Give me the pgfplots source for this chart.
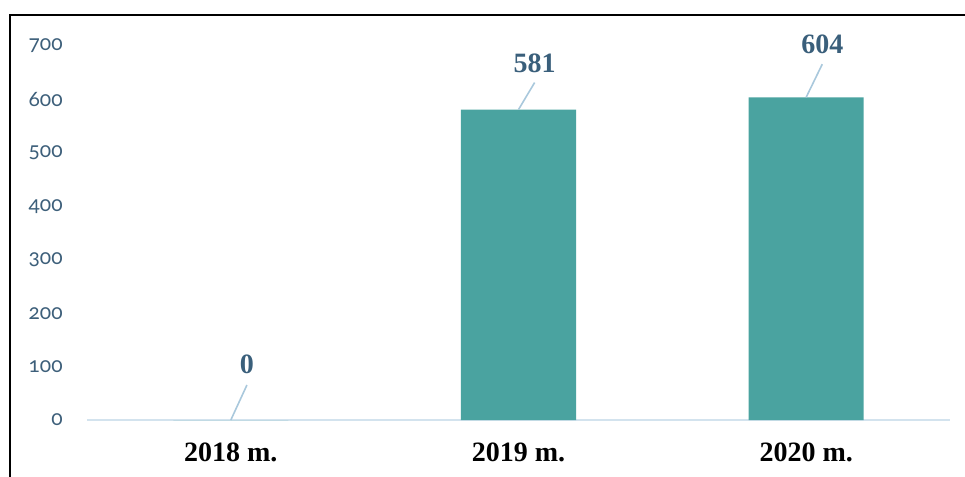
\documentclass[border=0pt]{standalone}
\usepackage{fontspec}
\setmainfont{Liberation Serif}
\newfontfamily\latofont[Numbers=OldStyle]{Lato}
\usepackage{pgfplots}
\usepackage{pgfplotstable}
\pgfplotsset{compat=1.18}
\definecolor{barteal}{HTML}{4AA3A0}
\definecolor{axisblue}{HTML}{D3E3EE}
\definecolor{leader}{HTML}{A9C8DC}
\definecolor{valblue}{HTML}{3A5F7B}
\definecolor{tickblue}{HTML}{3D5F7A}

% x: category, val: value, u/v: leader line, ly: label offset
\pgfplotstableread{
x val u v ly
0 0 0.056 65.5 86
1 581 0.056 50.5 69
2 604 0.056 62 80.5
}\datatable

\begin{document}
\begin{tikzpicture}
\useasboundingbox (-43.5pt,-28.5pt) rectangle (439pt,210pt);
\draw[line width=1pt] (-38.5pt,-28.5pt) -- (-38.5pt,202.5pt) -- (439pt,202.5pt);
\begin{axis}[
    at={(0pt,0pt)}, anchor=south west,
    scale only axis,
    width=431.5pt, height=187pt,
    xmin=-0.5, xmax=2.5,
    ymin=0, ymax=700,
    clip=false,
    axis x line=bottom,
    axis y line=left,
    x axis line style={draw=axisblue, line width=1pt, -},
    y axis line style={draw=none},
    major tick length=0pt,
    xtick={0,1,2},
    xticklabels={2018 m., 2019 m., 2020 m.},
    xticklabel style={font=\fontsize{14}{16}\selectfont\bfseries, text=black, anchor=north, inner sep=0pt, yshift=-11pt},
    ytick={0,100,...,700},
    yticklabel={\pgfmathprintnumber[assume math mode=true]{\tick}},
    yticklabel style={font=\latofont\fontsize{10.5}{12}\selectfont, text=tickblue, anchor=east, inner sep=0pt, xshift=-12pt},
]
\addplot[ybar, bar width=0.4, bar shift=0pt, fill=barteal, draw=none]
    table[x=x, y=val] {\datatable};
\addplot[quiver={u=\thisrow{u}, v=\thisrow{v}}, -, draw=leader, line width=0.8pt, no markers]
    table[x=x, y=val] {\datatable};
\addplot[draw=none, no markers, point meta=explicit,
    nodes near coords={\pgfmathprintnumber[assume math mode=true]{\pgfplotspointmeta}},
    every node near coord/.append style={font=\fontsize{14}{16}\selectfont\bfseries, text=valblue, anchor=south, inner sep=0pt}]
    table[x expr=\thisrow{x}+0.056, y expr=\thisrow{val}+\thisrow{ly}, meta=val] {\datatable};
\end{axis}
\end{tikzpicture}
\end{document}
